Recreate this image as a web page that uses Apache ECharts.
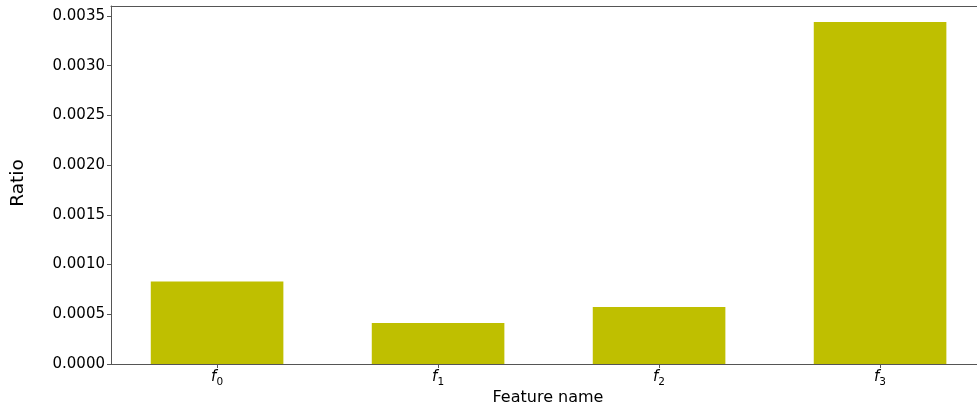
<!DOCTYPE html>
<html>
<head>
<meta charset="utf-8">
<script src="https://cdn.jsdelivr.net/npm/echarts@6/dist/echarts.min.js"></script>
<style>
  html, body { margin: 0; padding: 0; background: #fff; }
  #chart { width: 977px; height: 408px; }
</style>
</head>
<body>
<div id="chart"></div>
<script>
// Feature ratios
const featureIndex = [0, 1, 2, 3];
const featureSub = ['0', '1', '2', '3'];
const ratioValues = [0.00083, 0.000413, 0.000572, 0.003438];
const yTicks = [0, 0.0005, 0.001, 0.0015, 0.002, 0.0025, 0.003, 0.0035];

const FONT = 'DejaVu Sans';
const spine = '#555555';

// x range: the right end of the plot runs past the page edge
const X_MIN = -0.48;
const X_MAX = 3.4386;

const chart = echarts.init(document.getElementById('chart'), null, { renderer: 'canvas' });

chart.setOption({
  animation: false,
  backgroundColor: '#ffffff',
  grid: { left: 111, top: 6, right: 0, bottom: 44, show: false },
  xAxis: [{
    type: 'value',
    min: X_MIN, max: X_MAX,
    position: 'bottom',
    axisLine: { show: true, onZero: false, lineStyle: { color: spine, width: 1 } },
    splitLine: { show: false },
    axisTick: { show: true, customValues: featureIndex, length: 4, lineStyle: { color: spine } },
    axisLabel: {
      customValues: featureIndex,
      margin: 6,
      formatter: v => '{f|f}{s|' + featureSub[Math.round(v)] + '}',
      rich: {
        f: { fontFamily: FONT, fontStyle: 'italic', fontSize: 15, color: '#000', lineHeight: 18, verticalAlign: 'top' },
        s: { fontFamily: FONT, fontSize: 10.5, color: '#000', lineHeight: 18, verticalAlign: 'bottom', padding: [5, 0, 0, 0] }
      }
    }
  }, {
    type: 'value',
    min: X_MIN, max: X_MAX,
    position: 'top',
    axisLine: { show: true, onZero: false, lineStyle: { color: spine, width: 1 } },
    splitLine: { show: false },
    axisTick: { show: false },
    axisLabel: { show: false }
  }],
  yAxis: {
    type: 'value',
    min: 0, max: 0.0036,
    position: 'left',
    axisLine: { show: true, onZero: false, lineStyle: { color: spine, width: 1 } },
    splitLine: { show: false },
    axisTick: { show: true, customValues: yTicks, length: 4, lineStyle: { color: spine } },
    axisLabel: {
      customValues: yTicks,
      margin: 6,
      fontFamily: FONT, fontSize: 15, color: '#000',
      formatter: v => v.toFixed(4)
    }
  },
  graphic: [
    {
      type: 'text',
      x: 18, y: 183, rotation: Math.PI / 2,
      style: { text: 'Ratio', fontFamily: FONT, fontSize: 18.5, fill: '#000', align: 'center', verticalAlign: 'middle' }
    },
    {
      type: 'text', x: 548, y: 398,
      style: { text: 'Feature name', fontFamily: FONT, fontSize: 16, fill: '#000', align: 'center', verticalAlign: 'middle' }
    }
  ],
  series: [{
    type: 'bar',
    xAxisIndex: 0,
    data: featureIndex.map((x, i) => [x, ratioValues[i]]),
    barWidth: 132.6,
    itemStyle: { color: '#bfbf00' }
  }]
});
</script>
</body>
</html>
